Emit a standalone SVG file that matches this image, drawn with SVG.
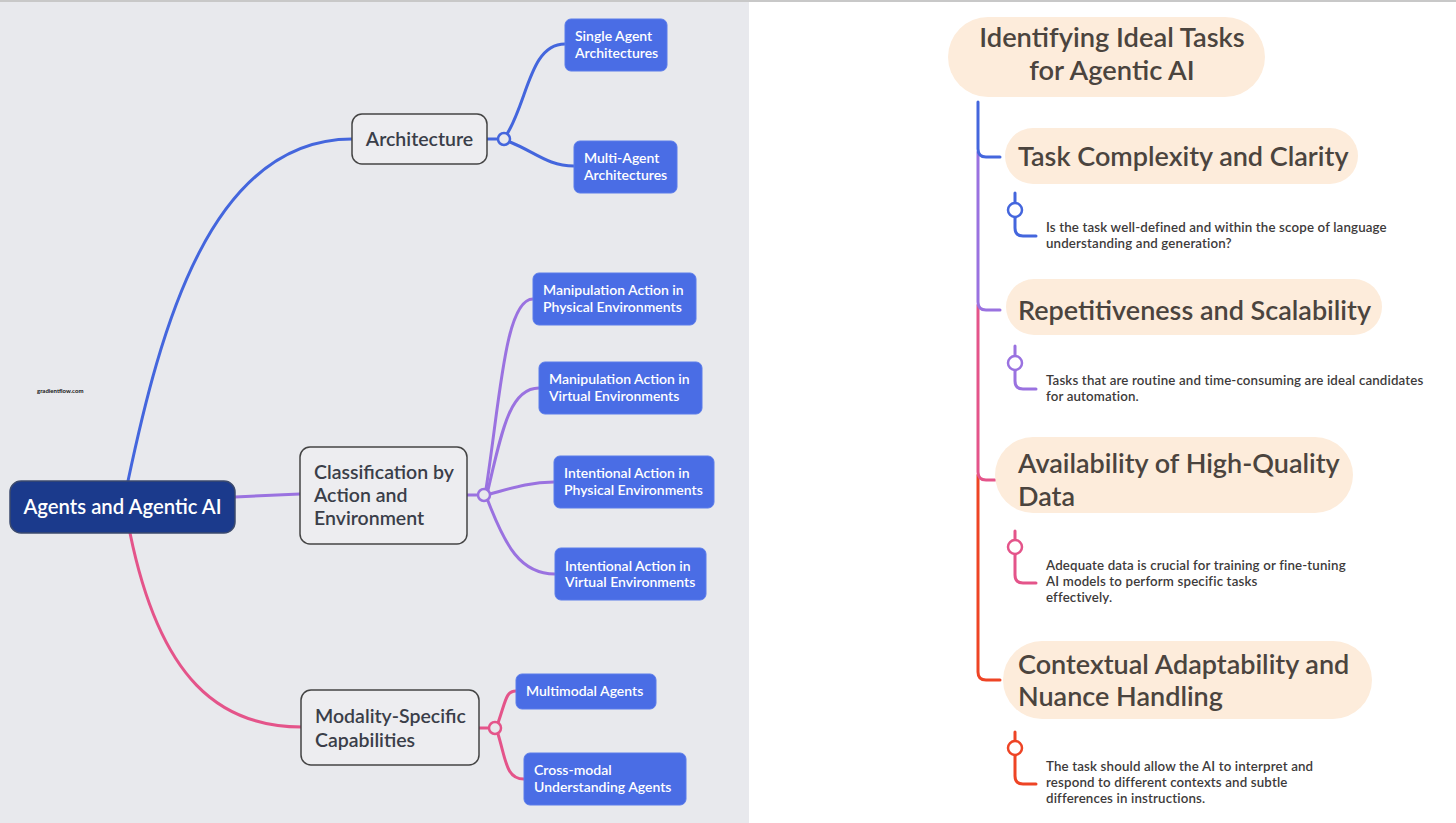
<svg xmlns="http://www.w3.org/2000/svg" width="1456" height="823" viewBox="0 0 1456 823">
<style>
.bg{fill:#e8e9ed}
.mid{fill:#ededf0;stroke:#444;stroke-width:1.5}
.leaf{fill:#4a6de5;stroke:#5a7cea;stroke-width:1}
.lt{font-family:Lato,"Noto Sans",sans-serif;font-weight:600;font-size:14px;fill:#fff}
.mt{font-family:Lato,"Noto Sans",sans-serif;font-weight:600;font-size:19.5px;fill:#3a3e49}
.pill{fill:#fdecdb}
.ht{font-family:Lato,"Noto Sans",sans-serif;font-weight:600;font-size:27px;fill:#4b443e}
.dt{font-family:Lato,"Noto Sans",sans-serif;font-weight:600;font-size:13.3px;letter-spacing:0.15px;fill:#3d3a3a}
.c{fill:none;stroke-width:3;stroke-linecap:round}
.cb{stroke:#4466dd}.cp{stroke:#9a72e0}.ck{stroke:#e4548a}.cr{stroke:#ee4425}
.dot{stroke-width:2.5}
</style>
<rect x="0" y="0" width="1456" height="823" fill="#fff"/>
<rect class="bg" x="0" y="2" width="749" height="821"/>
<rect x="0" y="0" width="1456" height="2" fill="#c8c8c8"/>
<text x="37" y="393" font-family="Lato,sans-serif" font-weight="700" font-size="6px" fill="#111">gradientflow.com</text>

<g id="connectors">
  <path class="c cb" d="M128,481 C160,330 210,139 352,139"/>
  <path class="c cp" d="M235,497 L300,494"/>
  <path class="c ck" d="M130,533 C160,680 220,727 302,727"/>
  <path class="c cb" d="M487,139 L498,139"/>
  <path class="c cb" d="M507,134 C528,100 530,44 565,44"/>
  <path class="c cb" d="M510,142 C535,152 548,166 574,166"/>
  <path class="c cp" d="M467,495 L478,495"/>
  <path class="c cp" d="M486,489 C500,400 505,299 533,299"/>
  <path class="c cp" d="M488,490 C502,430 510,388 539,388"/>
  <path class="c cp" d="M490,494 C512,488 530,482 554,482"/>
  <path class="c cp" d="M488,501 C505,545 520,574 555,574"/>
  <path class="c ck" d="M479,728 L489,728"/>
  <path class="c ck" d="M498,723 C506,700 506,691 516,691"/>
  <path class="c ck" d="M498,734 C506,760 506,779 524,779"/>
  <circle class="dot" cx="504" cy="139" r="6" fill="#e8e9ed" stroke="#4466dd"/>
  <circle class="dot" cx="484" cy="495" r="6" fill="#e8e9ed" stroke="#9a72e0"/>
  <circle class="dot" cx="495" cy="728" r="6" fill="#e8e9ed" stroke="#e4548a"/>

  <path class="c cr" d="M978,475 L978,672 Q978,680 986,680 L1000,680"/>
  <path class="c ck" d="M978,305 L978,472 Q978,480 986,480 L995,480"/>
  <path class="c cp" d="M978,152 L978,302 Q978,310 986,310 L1000,310"/>
  <path class="c cb" d="M978,102 L978,149 Q978,157 986,157 L1000,157"/>

  <path class="c cb" d="M1015,193 L1015,203 M1015,217 L1015,228 Q1015,236 1023,236 L1036,236"/>
  <circle class="dot" cx="1015" cy="210" r="7" fill="#fff" stroke="#4466dd"/>
  <path class="c cp" d="M1015,346 L1015,356 M1015,370 L1015,381 Q1015,389 1023,389 L1036,389"/>
  <circle class="dot" cx="1015" cy="363" r="7" fill="#fff" stroke="#9a72e0"/>
  <path class="c ck" d="M1015,531 L1015,540 M1015,554 L1015,575 Q1015,583 1023,583 L1036,583"/>
  <circle class="dot" cx="1015" cy="547" r="7" fill="#fff" stroke="#e4548a"/>
  <path class="c cr" d="M1015,732 L1015,741 M1015,755 L1015,776 Q1015,784 1023,784 L1036,784"/>
  <circle class="dot" cx="1015" cy="748" r="7" fill="#fff" stroke="#ee4425"/>
</g>

<g id="root">
  <rect x="10" y="481" width="225" height="52" rx="11" fill="#1b3a8c" stroke="#3b4a6e" stroke-width="1.5"/>
  <text x="122.5" y="514" text-anchor="middle" font-family="Lato,'Noto Sans',sans-serif" font-weight="600" font-size="20.3px" fill="#fff">Agents and Agentic AI</text>
</g>

<g id="architecture">
  <rect class="mid" x="352" y="114" width="135" height="50" rx="10"/>
  <text class="mt" x="419.5" y="146" text-anchor="middle">Architecture</text>
</g>
<g id="single-agent">
  <rect class="leaf" x="565" y="19" width="102" height="52" rx="6"/>
  <text class="lt" x="575" y="41">Single Agent</text>
  <text class="lt" x="575" y="58">Architectures</text>
</g>
<g id="multi-agent">
  <rect class="leaf" x="574" y="141" width="103" height="52" rx="6"/>
  <text class="lt" x="584" y="163">Multi-Agent</text>
  <text class="lt" x="584" y="180">Architectures</text>
</g>

<g id="classification">
  <rect class="mid" x="300" y="447" width="167" height="97" rx="10"/>
  <text class="mt" x="314" y="479">Classification by</text>
  <text class="mt" x="314" y="502">Action and</text>
  <text class="mt" x="314" y="525">Environment</text>
</g>
<g id="manip-physical">
  <rect class="leaf" x="533" y="273" width="163" height="52" rx="6"/>
  <text class="lt" x="543" y="295">Manipulation Action in</text>
  <text class="lt" x="543" y="312">Physical Environments</text>
</g>
<g id="manip-virtual">
  <rect class="leaf" x="539" y="362" width="163" height="52" rx="6"/>
  <text class="lt" x="549" y="384">Manipulation Action in</text>
  <text class="lt" x="549" y="401">Virtual Environments</text>
</g>
<g id="intent-physical">
  <rect class="leaf" x="554" y="456" width="160" height="52" rx="6"/>
  <text class="lt" x="564" y="478">Intentional Action in</text>
  <text class="lt" x="564" y="495">Physical Environments</text>
</g>
<g id="intent-virtual">
  <rect class="leaf" x="555" y="548" width="151" height="52" rx="6"/>
  <text class="lt" x="565" y="571">Intentional Action in</text>
  <text class="lt" x="565" y="587">Virtual Environments</text>
</g>

<g id="modality">
  <rect class="mid" x="301" y="690" width="178" height="75" rx="10"/>
  <text class="mt" x="315" y="723">Modality-Specific</text>
  <text class="mt" x="315" y="747">Capabilities</text>
</g>
<g id="multimodal">
  <rect class="leaf" x="516" y="674" width="140" height="35" rx="6"/>
  <text class="lt" x="526" y="696">Multimodal Agents</text>
</g>
<g id="cross-modal">
  <rect class="leaf" x="524" y="753" width="162" height="52" rx="6"/>
  <text class="lt" x="534" y="775">Cross-modal</text>
  <text class="lt" x="534" y="792">Understanding Agents</text>
</g>

<g id="title">
  <rect class="pill" x="948" y="17" width="317" height="80" rx="40"/>
  <text x="1112" y="47" text-anchor="middle" font-family="Lato,'Noto Sans',sans-serif" font-weight="600" font-size="27.3px" fill="#4b443e">Identifying Ideal Tasks</text>
  <text x="1112" y="80" text-anchor="middle" font-family="Lato,'Noto Sans',sans-serif" font-weight="600" font-size="27.3px" fill="#4b443e">for Agentic AI</text>
</g>

<g id="task-complexity">
  <rect class="pill" x="1005" y="128" width="353" height="56" rx="28"/>
  <text class="ht" x="1018" y="166">Task Complexity and Clarity</text>
</g>
<g id="task-complexity-desc">
  <text class="dt" x="1046" y="232">Is the task well-defined and within the scope of language</text>
  <text class="dt" x="1046" y="248">understanding and generation?</text>
</g>

<g id="repetitiveness">
  <rect class="pill" x="1006" y="279" width="376" height="56" rx="28"/>
  <text class="ht" x="1018" y="320">Repetitiveness and Scalability</text>
</g>
<g id="repetitiveness-desc">
  <text class="dt" x="1046" y="385">Tasks that are routine and time-consuming are ideal candidates</text>
  <text class="dt" x="1046" y="401">for automation.</text>
</g>

<g id="availability">
  <rect class="pill" x="995" y="437" width="358" height="76" rx="38"/>
  <text class="ht" x="1018" y="473">Availability of High-Quality</text>
  <text class="ht" x="1018" y="506">Data</text>
</g>
<g id="availability-desc">
  <text class="dt" x="1046" y="570">Adequate data is crucial for training or fine-tuning</text>
  <text class="dt" x="1046" y="586">AI models to perform specific tasks</text>
  <text class="dt" x="1046" y="602">effectively.</text>
</g>

<g id="contextual">
  <rect class="pill" x="1003" y="641" width="369" height="78" rx="39"/>
  <text class="ht" x="1018" y="674">Contextual Adaptability and</text>
  <text class="ht" x="1018" y="706">Nuance Handling</text>
</g>
<g id="contextual-desc">
  <text class="dt" x="1046" y="771">The task should allow the AI to interpret and</text>
  <text class="dt" x="1046" y="787">respond to different contexts and subtle</text>
  <text class="dt" x="1046" y="803">differences in instructions.</text>
</g>
</svg>
